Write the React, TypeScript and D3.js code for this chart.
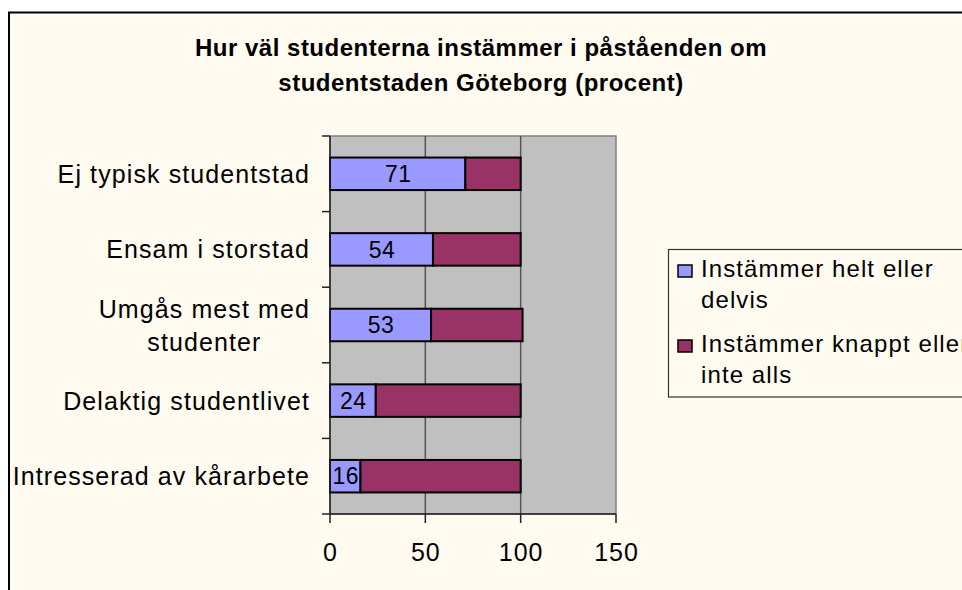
import React, { useEffect, useRef } from "react";
import * as d3 from "d3";

const TITLE_LINES = ["Hur väl studenterna instämmer i påståenden om", "studentstaden Göteborg (procent)"];
const CATEGORIES = [
  "Ej typisk studentstad",
  "Ensam i storstad",
  "Umgås mest med studenter",
  "Delaktig studentlivet",
  "Intresserad av kårarbete",
];
const CATEGORY_LINES: string[][] = [
  ["Ej typisk studentstad"],
  ["Ensam i storstad"],
  ["Umgås mest med", "studenter"],
  ["Delaktig studentlivet"],
  ["Intresserad av kårarbete"],
];
const AGREE = [71, 54, 53, 24, 16];
const DISAGREE = [29, 46, 48, 76, 84];
const SERIES_NAMES = ["Instämmer helt eller delvis", "Instämmer knappt eller inte alls"];
const LEGEND_LINES = [["Instämmer helt eller", "delvis"], ["Instämmer knappt eller", "inte alls"]];
const SERIES_COLORS = ["#9999FF", "#993366"];
const X_TICKS = [0, 50, 100, 150];

const FONT = "'Liberation Sans', Arial, Helvetica, sans-serif";

export default function App() {
  const ref = useRef<SVGSVGElement | null>(null);

  useEffect(() => {
    const svg = d3.select(ref.current!);
    svg.selectAll("*").remove();
    const W = 962, H = 590;
    const plot = { left: 330, right: 616, top: 136, bottom: 514 };

    svg.append("rect").attr("width", W).attr("height", H).attr("fill", "#ffffff");
    svg.append("rect").attr("x", 9).attr("y", 12.5).attr("width", 1000).attr("height", 700)
      .attr("fill", "#FFFBF0").attr("stroke", "#000").attr("stroke-width", 2);

    // Title
    const title = svg.append("g");
    TITLE_LINES.forEach((t, i) => {
      title.append("text").attr("x", 481).attr("y", 56 + i * 35)
        .attr("text-anchor", "middle").attr("font-family", FONT).attr("font-weight", "bold")
        .attr("font-size", 24).attr("letter-spacing", 0.5).attr("fill", "#000").text(t);
    });

    const x = d3.scaleLinear().domain([0, 150]).range([plot.left, plot.right]);
    const y = d3.scaleBand<number>().domain(d3.range(CATEGORIES.length))
      .range([plot.top, plot.bottom]).paddingInner(0.57).paddingOuter(0.285);
    const step = y.step();

    // Plot area
    svg.append("rect").attr("x", plot.left).attr("y", plot.top)
      .attr("width", plot.right - plot.left).attr("height", plot.bottom - plot.top)
      .attr("fill", "#C0C0C0").attr("stroke", "#808080").attr("stroke-width", 1.5);

    // Gridlines
    svg.append("g").selectAll("line").data(X_TICKS.filter(v => v > 0 && v < 150)).join("line")
      .attr("x1", d => x(d)).attr("x2", d => x(d)).attr("y1", plot.top).attr("y2", plot.bottom)
      .attr("stroke", "#555").attr("stroke-width", 1.5);

    // Bars
    const stacks = d3.stack<number>().keys(["a", "b"]).value((i, k) => (k === "a" ? AGREE[i] : DISAGREE[i]))(
      d3.range(CATEGORIES.length)
    );
    stacks.forEach((s, si) => {
      svg.append("g").selectAll("rect").data(s).join("rect")
        .attr("x", d => x(d[0])).attr("width", d => x(d[1]) - x(d[0]))
        .attr("y", d => y(d.data)!).attr("height", y.bandwidth())
        .attr("fill", SERIES_COLORS[si]).attr("stroke", "#000").attr("stroke-width", 2);
    });

    // Data labels
    svg.append("g").selectAll("text").data(stacks[0]).join("text")
      .attr("x", d => (x(d[0]) + x(d[1])) / 2 + 0.5).attr("y", d => y(d.data)! + y.bandwidth() / 2)
      .attr("dy", "0.36em").attr("text-anchor", "middle").attr("font-family", FONT)
      .attr("font-size", 23).attr("letter-spacing", 0.5).attr("fill", "#000")
      .text((d, i) => String(AGREE[i]));

    // Axes
    svg.append("line").attr("x1", plot.left).attr("x2", plot.left).attr("y1", plot.top).attr("y2", plot.bottom)
      .attr("stroke", "#222").attr("stroke-width", 1.5);
    svg.append("line").attr("x1", plot.left).attr("x2", plot.right).attr("y1", plot.bottom).attr("y2", plot.bottom)
      .attr("stroke", "#222").attr("stroke-width", 1.5);

    // Y tick marks at band boundaries
    svg.append("g").selectAll("line").data(d3.range(CATEGORIES.length + 1)).join("line")
      .attr("x1", plot.left - 8).attr("x2", plot.left)
      .attr("y1", i => plot.top + i * step).attr("y2", i => plot.top + i * step)
      .attr("stroke", "#222").attr("stroke-width", 1.5);

    // X ticks
    svg.append("g").selectAll("line").data(X_TICKS).join("line")
      .attr("x1", d => x(d)).attr("x2", d => x(d)).attr("y1", plot.bottom).attr("y2", plot.bottom + 9)
      .attr("stroke", "#222").attr("stroke-width", 1.5);
    svg.append("g").selectAll("text").data(X_TICKS).join("text")
      .attr("x", d => x(d) + 0.5).attr("y", 561).attr("text-anchor", "middle")
      .attr("font-family", FONT).attr("font-size", 25).attr("letter-spacing", 1).attr("fill", "#000")
      .text(d => String(d));

    // Category labels
    const labelRight = 310;
    CATEGORY_LINES.forEach((lines, i) => {
      const cy = plot.top + (i + 0.5) * step;
      const lh = 33;
      const g = svg.append("g");
      const texts = lines.map((t, li) =>
        g.append("text").attr("y", cy + (li - (lines.length - 1) / 2) * lh)
          .attr("dy", "0.36em").attr("font-family", FONT).attr("font-size", 25)
          .attr("letter-spacing", 1.1).attr("fill", "#000").text(t)
      );
      const widths = texts.map(t => (t.node() as SVGTextElement).getComputedTextLength());
      const maxW = Math.max(...widths);
      const cx = labelRight - maxW / 2;
      texts.forEach((t, li) => t.attr("x", cx - widths[li] / 2));
    });

    // Legend
    svg.append("rect").attr("x", 668.5).attr("y", 249.5).attr("width", 400).attr("height", 147.5)
      .attr("fill", "#FFFBF0").attr("stroke", "#333").attr("stroke-width", 1.2);
    const legendBase = [277, 352];
    SERIES_NAMES.forEach((name, i) => {
      const g = svg.append("g").attr("aria-label", name);
      g.append("rect").attr("x", 678).attr("y", legendBase[i] - 12).attr("width", 14).attr("height", 12)
        .attr("fill", SERIES_COLORS[i]).attr("stroke", "#000").attr("stroke-width", 1.5);
      LEGEND_LINES[i].forEach((t, li) => {
        g.append("text").attr("x", 701).attr("y", legendBase[i] + li * 31)
          .attr("font-family", FONT).attr("font-size", 24).attr("letter-spacing", 1.1)
          .attr("fill", "#000").text(t);
      });
    });
  }, []);

  return (
    <svg ref={ref} width={962} height={590}
      style={{ position: "absolute", left: 0, top: 0, display: "block" }} />
  );
}
